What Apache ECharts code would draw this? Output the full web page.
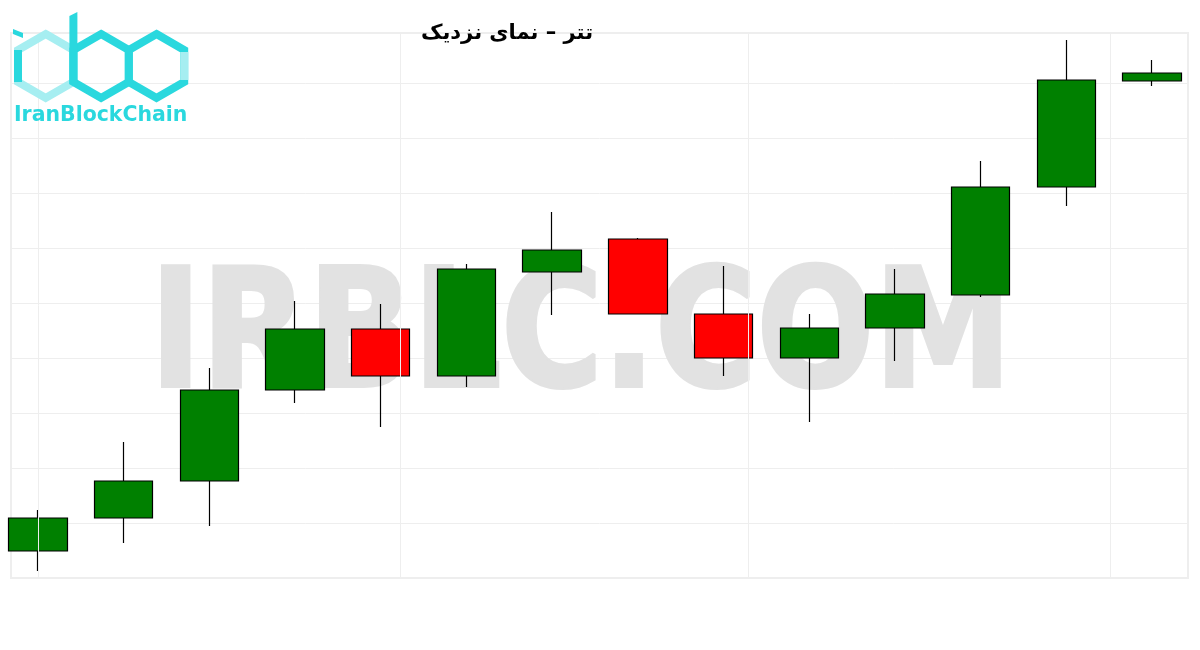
<!DOCTYPE html>
<html>
<head>
<meta charset="utf-8">
<title>تتر – نمای نزدیک</title>
<script src="https://cdn.jsdelivr.net/npm/echarts@6/dist/echarts.min.js"></script>
<style>
    html, body { margin: 0; padding: 0; background: #fff; }
    #chart { width: 1200px; height: 650px; }
</style>
</head>
<body>
<div id="chart"></div>
<script>
// candles (no price labels shown, so arbitrary units)
const categories = ['1', '2', '3', '4', '5', '6', '7', '8', '9', '10', '11', '12', '13', '14']
const openValues  = [27, 60, 97, 188, 249, 202, 306, 339, 264, 220, 250, 283, 391, 497]
const closeValues = [60, 97, 188, 249, 202, 309, 328, 264, 220, 250, 284, 391, 498, 505]
const lowValues   = [7, 35, 52, 175, 151, 191, 263, 264, 202, 156, 217, 281, 372, 492]
const highValues  = [68, 136, 210, 277, 274, 314, 366, 340, 312, 264, 309, 417, 538, 518]

// faint vertical grid lines (value units of the helper x axis)
const vLines = [27, 389, 737, 1099]

const titleText = 'تتر – نمای نزدیک'
const watermark = 'IRBLC.COM'
const logoText = 'IranBlockChain'

const dark = '#2ad8de'
const light = '#a6eef1'

function hexPts(cx, cy, r) {
    let pts = []
    for (let i = 0; i < 6; i++) {
        let a = Math.PI / 180 * (-90 + 60 * i)
        pts.push([cx + r * Math.cos(a), cy + r * Math.sin(a)])
    }
    return pts
}

let candles = categories.map((c, i) => [openValues[i], closeValues[i], lowValues[i], highValues[i]])

let chart = echarts.init(document.getElementById('chart'))

let option = {
    animation: false,
    backgroundColor: '#fff',
    title: {
        text: titleText,
        left: 502,
        top: 18,
        textAlign: 'center',
        textStyle: {
            fontFamily: 'DejaVu Sans',
            fontSize: 21,
            fontWeight: 'bold',
            color: '#000'
        }
    },
    grid: [{
        left: -5,
        top: 33,
        width: 1200,
        height: 545,
        outerBoundsMode: 'none',
        show: false
    }, {
        left: 11,
        top: 33,
        width: 1177,
        height: 545,
        outerBoundsMode: 'none',
        show: true,
        borderColor: '#eeeeee',
        borderWidth: 2
    }],
    xAxis: [{
        type: 'category',
        gridIndex: 0,
        data: categories,
        boundaryGap: true,
        show: false
    }, {
        type: 'value',
        gridIndex: 1,
        min: 0,
        max: 1177,
        axisLine: { show: false },
        axisTick: { show: false },
        axisLabel: { show: false },
        splitLine: { show: false }
    }],
    yAxis: [{
        type: 'value',
        gridIndex: 0,
        min: 0,
        max: 545,
        show: false
    }, {
        type: 'value',
        gridIndex: 1,
        min: 0,
        max: 545,
        interval: 55,
        axisLine: { show: false },
        axisTick: { show: false },
        axisLabel: { show: false },
        splitLine: {
            lineStyle: { color: '#eeeeee', width: 1 }
        }
    }],
    graphic: [
        {
            type: 'text',
            z: 1,
            x: 150,
            y: 343,
            scaleX: 0.843,
            silent: true,
            style: {
                text: watermark,
                fontFamily: 'DejaVu Sans',
                fontWeight: 'bold',
                fontSize: 164,
                fill: '#e2e2e2',
                stroke: '#e2e2e2',
                lineWidth: 4,
                verticalAlign: 'middle',
                align: 'left'
            }
        },
        // logo
        {
            type: 'polygon', z: 10, silent: true,
            shape: { points: hexPts(45.7, 66, 32) },
            style: { stroke: light, lineWidth: 8, fill: 'transparent' }
        },
        {
            type: 'line', z: 11, silent: true,
            shape: { x1: 18, y1: 50, x2: 18, y2: 82 },
            style: { stroke: dark, lineWidth: 8 }
        },
        {
            type: 'polygon', z: 11, silent: true,
            shape: { points: [[13, 29], [23, 33], [23, 38], [13, 34]] },
            style: { fill: dark }
        },
        {
            type: 'polygon', z: 11, silent: true,
            shape: { points: hexPts(101.1, 66, 32) },
            style: { stroke: dark, lineWidth: 8, fill: 'transparent' }
        },
        {
            type: 'polygon', z: 11, silent: true,
            shape: { points: [[69.4, 16], [77.4, 12], [77.4, 84], [69.4, 84]] },
            style: { fill: dark }
        },
        {
            type: 'polygon', z: 11, silent: true,
            shape: { points: hexPts(156.5, 66, 32) },
            style: { stroke: dark, lineWidth: 8, fill: 'transparent' }
        },
        {
            type: 'line', z: 12, silent: true,
            shape: { x1: 184.2, y1: 52, x2: 184.2, y2: 80 },
            style: { stroke: light, lineWidth: 8 }
        },
        {
            type: 'text', z: 11, silent: true,
            x: 14, y: 104,
            scaleX: 0.93,
            style: {
                text: logoText,
                fontFamily: 'DejaVu Sans',
                fontWeight: 'bold',
                fontSize: 22,
                fill: dark
            }
        }
    ],
    series: [{
        type: 'candlestick',
        xAxisIndex: 0,
        yAxisIndex: 0,
        data: candles,
        barWidth: 59,
        itemStyle: {
            color: '#008000',
            color0: '#ff0000',
            borderColor: '#000',
            borderColor0: '#000',
            borderWidth: 1.2
        }
    }, {
        type: 'line',
        xAxisIndex: 1,
        yAxisIndex: 1,
        data: [],
        silent: true,
        markLine: {
            silent: true,
            symbol: 'none',
            label: { show: false },
            lineStyle: { color: '#eeeeee', type: 'solid', width: 1 },
            data: vLines.map(v => ({ xAxis: v }))
        }
    }]
}

chart.setOption(option)
</script>
</body>
</html>
